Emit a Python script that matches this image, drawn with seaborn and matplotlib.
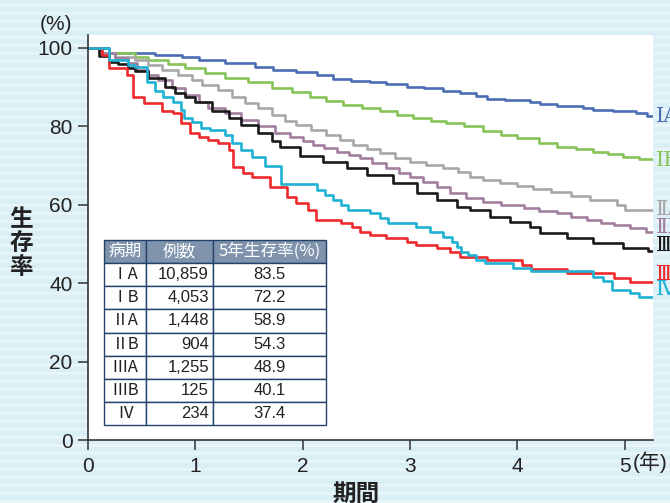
import pandas as pd
import numpy as np
import seaborn as sns
import matplotlib.pyplot as plt

# stage names, colours and the right-edge label heights
stages = ["ⅠA", "ⅠB", "ⅡA", "ⅡB", "ⅢA", "ⅢB", "Ⅳ"]
colors = ["#4a6db3", "#86c45a", "#a8a8a8", "#a27f9e", "#1a1a1a", "#ee2a2e", "#1fb2d2"]
label_y = [82.5, 71.2, 58.7, 54.1, 49.7, 42.1, 38.3]

# step survival curves (time in years, survival in %)
t_1a = [0, 0.2, 0.62, 0.88, 1.03, 1.28, 1.56, 1.72, 1.94, 2.13, 2.28, 2.45, 2.63, 2.78, 2.97, 3.13, 3.31, 3.47, 3.62, 3.72, 3.89, 4.12, 4.21, 4.37, 4.61, 4.71, 4.89, 5.11, 5.21, 5.26]
s_1a = [100, 98.8, 98.2, 97.8, 96.9, 96.1, 95.1, 94.4, 93.8, 93.0, 92.1, 91.6, 91.2, 90.7, 90.1, 89.7, 88.9, 88.4, 87.8, 87.1, 86.7, 86.3, 85.7, 85.3, 84.6, 84.2, 83.8, 83.5, 82.6, 82.6]

t_1b = [0, 0.12, 0.44, 0.56, 0.75, 0.9, 1.09, 1.28, 1.49, 1.71, 1.9, 2.07, 2.22, 2.38, 2.55, 2.72, 2.88, 3.03, 3.2, 3.34, 3.5, 3.68, 3.85, 4.0, 4.2, 4.37, 4.55, 4.71, 4.85, 4.99, 5.13, 5.26]
s_1b = [100, 98.7, 97.8, 96.9, 95.9, 94.8, 93.5, 92.4, 91.2, 89.7, 88.7, 87.6, 86.5, 85.5, 84.6, 83.8, 82.9, 82.1, 81.4, 80.8, 80.0, 78.7, 77.8, 77.0, 75.8, 74.8, 74.1, 73.5, 72.9, 72.3, 71.7, 71.7]

t_2a = [0, 0.12, 0.25, 0.44, 0.56, 0.69, 0.84, 0.97, 1.06, 1.21, 1.34, 1.46, 1.58, 1.71, 1.84, 1.94, 2.08, 2.22, 2.35, 2.47, 2.6, 2.72, 2.86, 3.0, 3.15, 3.31, 3.45, 3.56, 3.68, 3.84, 4.0, 4.15, 4.31, 4.5, 4.68, 4.93, 5.0, 5.26]
s_2a = [100, 98.7, 97.8, 96.9, 95.7, 94.4, 93.1, 91.8, 90.6, 89.3, 87.6, 86.0, 84.6, 82.9, 81.4, 80.4, 79.1, 77.8, 76.5, 75.3, 74.2, 73.1, 72.0, 71.0, 70.1, 69.3, 68.4, 67.2, 66.3, 65.6, 64.9, 64.1, 63.3, 62.2, 61.2, 59.9, 58.7, 58.7]

t_2b = [0, 0.12, 0.25, 0.37, 0.46, 0.56, 0.65, 0.78, 0.9, 1.03, 1.12, 1.28, 1.43, 1.58, 1.74, 1.88, 2.0, 2.1, 2.2, 2.32, 2.43, 2.53, 2.65, 2.78, 2.9, 3.0, 3.12, 3.25, 3.37, 3.52, 3.68, 3.85, 4.06, 4.2, 4.37, 4.5, 4.65, 4.78, 4.9, 5.05, 5.2, 5.26]
s_2b = [100, 98.7, 97.4, 96.1, 94.4, 93.1, 91.8, 89.7, 88.0, 86.3, 84.6, 83.3, 81.6, 80.1, 78.2, 77.4, 76.3, 75.3, 74.4, 73.5, 72.7, 71.9, 70.6, 69.3, 68.2, 67.2, 65.9, 64.6, 62.9, 61.8, 60.8, 60.0, 59.1, 58.4, 57.8, 57.0, 56.1, 55.4, 54.8, 54.0, 53.1, 53.1]

t_3a = [0, 0.1, 0.2, 0.28, 0.37, 0.44, 0.56, 0.72, 0.81, 0.9, 1.0, 1.16, 1.31, 1.43, 1.58, 1.71, 1.79, 1.98, 2.19, 2.41, 2.6, 2.84, 3.07, 3.25, 3.44, 3.56, 3.75, 3.93, 4.12, 4.21, 4.46, 4.71, 4.99, 5.22, 5.26]
s_3a = [100, 97.9, 96.5, 95.9, 94.8, 94.0, 92.3, 90.1, 88.4, 87.4, 86.3, 83.8, 82.1, 80.4, 78.2, 76.3, 74.8, 72.4, 71.0, 69.3, 67.6, 65.5, 62.9, 61.2, 59.5, 58.7, 57.0, 55.7, 54.4, 52.7, 51.4, 50.2, 48.9, 48.3, 48.3]

t_3b = [0, 0.13, 0.2, 0.36, 0.42, 0.52, 0.69, 0.79, 0.87, 0.95, 1.03, 1.12, 1.21, 1.31, 1.35, 1.44, 1.53, 1.70, 1.85, 1.94, 2.05, 2.12, 2.36, 2.46, 2.53, 2.63, 2.78, 2.97, 3.06, 3.25, 3.37, 3.47, 3.72, 4.04, 4.13, 4.46, 4.90, 5.05, 5.26]
s_3b = [100, 98.2, 94.8, 93.1, 87.6, 85.9, 83.8, 83.3, 80.8, 78.2, 77.4, 76.5, 75.7, 74.0, 69.7, 68.0, 67.2, 64.6, 62.1, 60.4, 58.7, 56.1, 55.3, 54.4, 53.1, 52.3, 51.4, 50.6, 49.7, 48.9, 48.0, 46.8, 45.9, 44.6, 43.5, 42.5, 41.2, 40.2, 40.2]

t_4 = [0, 0.2, 0.37, 0.44, 0.55, 0.62, 0.70, 0.79, 0.87, 0.89, 0.97, 1.05, 1.14, 1.28, 1.34, 1.43, 1.53, 1.65, 1.80, 2.13, 2.21, 2.28, 2.36, 2.42, 2.63, 2.72, 2.80, 3.06, 3.19, 3.31, 3.39, 3.44, 3.48, 3.54, 3.62, 3.70, 3.96, 4.13, 4.71, 4.80, 4.88, 5.05, 5.13, 5.26]
s_4 = [100, 97.0, 95.7, 95.2, 91.4, 88.9, 87.6, 86.3, 84.2, 82.1, 81.2, 79.5, 79.1, 77.8, 75.7, 74.0, 72.3, 70.0, 65.3, 63.8, 62.5, 61.2, 59.9, 58.7, 57.8, 56.6, 55.3, 54.4, 53.1, 51.9, 50.6, 49.3, 48.0, 47.2, 45.9, 45.1, 43.8, 43.0, 41.7, 40.6, 38.3, 37.4, 36.6, 36.6]

# table contents
tbl_header = ["病期", "例数", "5年生存率(%)"]
tbl_cases = ["10,859", "4,053", "1,448", "904", "1,255", "125", "234"]
tbl_rate = ["83.5", "72.2", "58.9", "54.3", "48.9", "40.1", "37.4"]

times = [t_1a, t_1b, t_2a, t_2b, t_3a, t_3b, t_4]
survs = [s_1a, s_1b, s_2a, s_2b, s_3a, s_3b, s_4]
df = pd.concat([pd.DataFrame({"t": t, "s": s, "stage": st}) for t, s, st in zip(times, survs, stages)])

sns.set_style("white")
plt.rcParams['font.family'] = ['Liberation Sans', 'Noto Sans CJK JP']
cjk = ['Noto Sans CJK JP']
serif = ['DejaVu Serif', 'Noto Sans CJK JP']

fig = plt.figure(figsize=(6.7, 5.03), dpi=100, facecolor="#d9eef5")

# striped light blue backdrop
bg = fig.add_axes([0, 0, 1, 1], zorder=-1)
bg.set_xlim(0, 1)
bg.set_ylim(0, 503)
bg.set_facecolor("#d9eef5")
for y in range(0, 503, 8):
    bg.axhspan(y, y + 3, color="#e7f5f9", lw=0)
bg.axis("off")

ax = fig.add_axes([88 / 670, 63 / 503, 565 / 670, 405 / 503])
ax.set_facecolor("white")
sns.lineplot(data=df, x="t", y="s", hue="stage", palette=dict(zip(stages, colors)),
             drawstyle="steps-post", estimator=None, sort=False, linewidth=1.9,
             legend=False, ax=ax)

ax.set_xlim(0, 5.265)
ax.set_ylim(0, 103.3)
ax.set_xticks(range(6))
ax.set_yticks(range(0, 101, 20))
ax.set_xlabel("")
ax.set_ylabel("")
ax.tick_params(axis="both", direction="out", length=7, width=1.1, color="#333333",
               labelsize=15, labelcolor="#222222", left=True, bottom=True)
ax.tick_params(axis="y", pad=4)
ax.tick_params(axis="x", pad=5)
for side in ["top", "right"]:
    ax.spines[side].set_visible(False)
for side in ["left", "bottom"]:
    ax.spines[side].set_color("#333333")
    ax.spines[side].set_linewidth(1.2)

# stage labels on the right edge (cut by the picture edge, as in the source)
for st, c, y in zip(stages, colors, label_y):
    ax.text(5.295, y, st, color=c, fontsize=15, va="center", ha="left",
            family=serif, clip_on=False)

# table
rows = [[st, n, r] for st, n, r in zip(stages, tbl_cases, tbl_rate)]
tab = ax.table(cellText=rows, colLabels=tbl_header, cellLoc="center",
               colWidths=[0.191, 0.300, 0.508], bbox=[0.0283, 0.037, 0.393, 0.4568])
tab.auto_set_font_size(False)
tab.set_fontsize(12)
for (r, c), cell in tab.get_celld().items():
    cell.set_edgecolor("#24436b")
    cell.set_linewidth(1.0)
    txt = cell.get_text()
    txt.set_color("#222222")
    if r == 0:
        cell.set_facecolor("#7f93ad")
        txt.set_color("white")
        txt.set_family(cjk)
    else:
        cell.set_facecolor("white")
        if c == 0:
            txt.set_family(cjk)
        if c == 1:
            cell._loc = "right"
            cell.PAD = 0.06
            txt.set_ha("right")

# axis annotations
fig.text(56 / 670, 1 - 25 / 503, "(%)", fontsize=15, ha="center", va="center", color="#222222")
fig.text(633 / 670, 1 - 462 / 503, "(年)", fontsize=15, ha="left", va="center", color="#222222")
fig.text(21 / 670, 1 - 243 / 503, "生\n存\n率", fontsize=17, fontweight="bold", ha="center",
         va="center", linespacing=1.0, family=cjk, color="#222222")
fig.text(356 / 670, 1 - 482 / 503, "期間", fontsize=17, fontweight="bold", ha="center",
         va="top", family=cjk, color="#222222")

plt.savefig("out.png", dpi=100, facecolor=fig.get_facecolor())
